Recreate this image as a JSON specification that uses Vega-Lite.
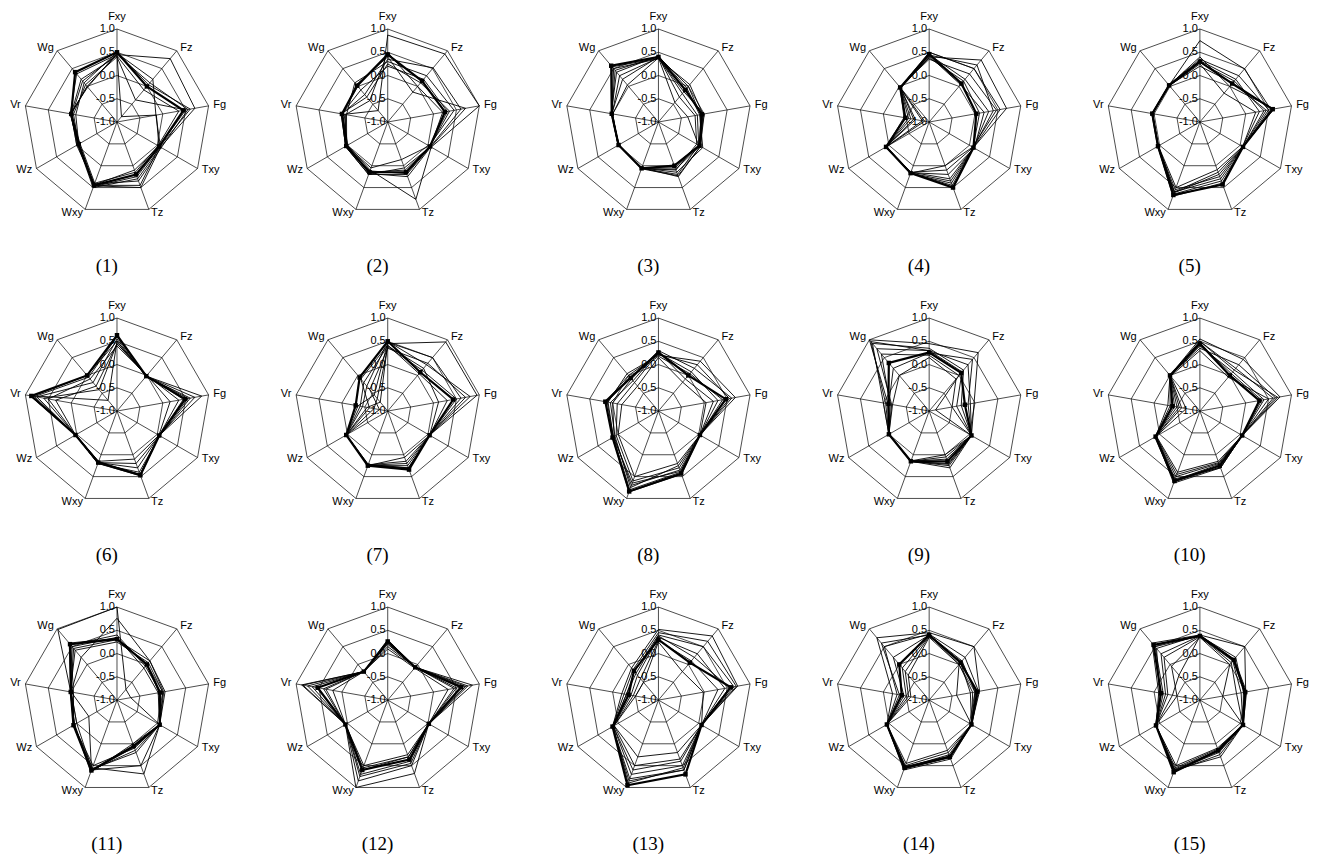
{
"$schema": "https://vega.github.io/schema/vega-lite/v6.json",
"padding": 0,
"autosize": {"type": "none"},
"width": 1342,
"height": 858,
"background": "white",
"data": {"values": [
{"c":1,"s":1,"Fxy":0.5,"Fz":0.0,"Fg":0.45,"Txy":0.05,"Tz":0.2,"Wxy":0.45,"Wz":-0.05,"Vr":0.0,"Wg":0.4},
{"c":1,"s":2,"Fxy":0.45,"Fz":0.78,"Fg":0.7,"Txy":0.08,"Tz":0.3,"Wxy":0.5,"Wz":-0.03,"Vr":0.02,"Wg":0.35},
{"c":1,"s":3,"Fxy":0.4,"Fz":-0.38,"Fg":0.5,"Txy":0.05,"Tz":0.45,"Wxy":0.45,"Wz":-0.05,"Vr":-0.05,"Wg":0.05},
{"c":1,"s":4,"Fxy":0.45,"Fz":0.1,"Fg":0.55,"Txy":0.1,"Tz":0.35,"Wxy":0.42,"Wz":0.0,"Vr":0.0,"Wg":0.0},
{"c":1,"s":5,"Fxy":0.5,"Fz":0.05,"Fg":0.6,"Txy":0.06,"Tz":0.25,"Wxy":0.48,"Wz":-0.05,"Vr":-0.1,"Wg":0.1},
{"c":1,"s":6,"Fxy":0.42,"Fz":-0.1,"Fg":0.35,"Txy":0.02,"Tz":0.15,"Wxy":0.4,"Wz":-0.08,"Vr":0.0,"Wg":0.2},
{"c":1,"s":7,"Fxy":0.48,"Fz":0.2,"Fg":-0.15,"Txy":0.08,"Tz":0.5,"Wxy":0.46,"Wz":-0.04,"Vr":0.02,"Wg":-0.02},
{"c":1,"s":8,"Fxy":0.45,"Fz":-0.85,"Fg":-0.14,"Txy":0.04,"Tz":0.1,"Wxy":0.44,"Wz":-0.02,"Vr":-0.02,"Wg":0.15},
{"c":2,"s":1,"Fxy":0.45,"Fz":0.15,"Fg":0.25,"Txy":0.05,"Tz":0.15,"Wxy":0.15,"Wz":0.03,"Vr":0.0,"Wg":0.02},
{"c":2,"s":2,"Fxy":0.87,"Fz":0.91,"Fg":1.0,"Txy":0.08,"Tz":0.77,"Wxy":0.1,"Wz":0.0,"Vr":-0.05,"Wg":-0.68},
{"c":2,"s":3,"Fxy":0.35,"Fz":0.52,"Fg":0.6,"Txy":0.06,"Tz":0.2,"Wxy":0.2,"Wz":0.05,"Vr":0.0,"Wg":-0.23},
{"c":2,"s":4,"Fxy":0.3,"Fz":0.3,"Fg":0.45,"Txy":0.03,"Tz":-0.14,"Wxy":0.05,"Wz":0.02,"Vr":-0.1,"Wg":0.1},
{"c":2,"s":5,"Fxy":0.25,"Fz":0.1,"Fg":0.35,"Txy":0.05,"Tz":0.1,"Wxy":0.15,"Wz":0.04,"Vr":0.02,"Wg":-0.3},
{"c":2,"s":6,"Fxy":0.4,"Fz":-0.16,"Fg":0.7,"Txy":0.07,"Tz":0.25,"Wxy":0.18,"Wz":0.0,"Vr":-0.02,"Wg":0.05},
{"c":2,"s":7,"Fxy":0.2,"Fz":0.2,"Fg":0.3,"Txy":0.04,"Tz":0.18,"Wxy":0.12,"Wz":0.03,"Vr":0.0,"Wg":-0.1},
{"c":2,"s":8,"Fxy":0.5,"Fz":0.0,"Fg":0.2,"Txy":0.06,"Tz":0.05,"Wxy":0.2,"Wz":0.05,"Vr":-0.08,"Wg":-0.4},
{"c":3,"s":1,"Fxy":0.4,"Fz":-0.1,"Fg":-0.05,"Txy":0.02,"Tz":0.0,"Wxy":0.06,"Wz":-0.01,"Vr":0.02,"Wg":0.58},
{"c":3,"s":2,"Fxy":0.38,"Fz":-0.45,"Fg":-0.36,"Txy":0.0,"Tz":0.05,"Wxy":0.05,"Wz":0.0,"Vr":0.0,"Wg":0.04},
{"c":3,"s":3,"Fxy":0.36,"Fz":0.05,"Fg":-0.03,"Txy":0.05,"Tz":0.23,"Wxy":0.07,"Wz":-0.02,"Vr":0.02,"Wg":0.5},
{"c":3,"s":4,"Fxy":0.42,"Fz":-0.05,"Fg":-0.1,"Txy":0.1,"Tz":0.15,"Wxy":0.05,"Wz":0.0,"Vr":0.03,"Wg":0.4},
{"c":3,"s":5,"Fxy":0.38,"Fz":-0.2,"Fg":-0.15,"Txy":0.0,"Tz":0.2,"Wxy":0.06,"Wz":-0.01,"Vr":0.01,"Wg":0.3},
{"c":3,"s":6,"Fxy":0.4,"Fz":-0.3,"Fg":-0.2,"Txy":-0.05,"Tz":0.1,"Wxy":0.06,"Wz":0.0,"Vr":0.02,"Wg":0.2},
{"c":3,"s":7,"Fxy":0.37,"Fz":-0.15,"Fg":0.0,"Txy":0.04,"Tz":0.25,"Wxy":0.05,"Wz":-0.02,"Vr":0.02,"Wg":0.55},
{"c":3,"s":8,"Fxy":0.41,"Fz":0.0,"Fg":-0.08,"Txy":0.03,"Tz":0.08,"Wxy":0.07,"Wz":0.0,"Vr":0.02,"Wg":0.45},
{"c":4,"s":1,"Fxy":0.46,"Fz":0.08,"Fg":0.03,"Txy":0.1,"Tz":0.5,"Wxy":0.17,"Wz":0.07,"Vr":-0.48,"Wg":-0.03},
{"c":4,"s":2,"Fxy":0.4,"Fz":0.74,"Fg":0.69,"Txy":0.1,"Tz":0.3,"Wxy":0.15,"Wz":0.07,"Vr":-0.66,"Wg":-0.05},
{"c":4,"s":3,"Fxy":0.35,"Fz":0.35,"Fg":0.47,"Txy":0.08,"Tz":0.0,"Wxy":0.17,"Wz":0.06,"Vr":-0.85,"Wg":-0.02},
{"c":4,"s":4,"Fxy":0.45,"Fz":0.2,"Fg":0.3,"Txy":0.1,"Tz":0.4,"Wxy":0.18,"Wz":0.07,"Vr":-0.55,"Wg":-0.03},
{"c":4,"s":5,"Fxy":0.42,"Fz":0.05,"Fg":0.2,"Txy":0.12,"Tz":0.2,"Wxy":0.16,"Wz":0.08,"Vr":-0.7,"Wg":-0.04},
{"c":4,"s":6,"Fxy":0.5,"Fz":0.5,"Fg":0.55,"Txy":0.1,"Tz":0.45,"Wxy":0.17,"Wz":0.07,"Vr":-0.45,"Wg":-0.03},
{"c":4,"s":7,"Fxy":0.38,"Fz":0.15,"Fg":0.1,"Txy":0.09,"Tz":0.1,"Wxy":0.15,"Wz":0.06,"Vr":-0.9,"Wg":-0.02},
{"c":4,"s":8,"Fxy":0.44,"Fz":0.6,"Fg":0.4,"Txy":0.1,"Tz":0.35,"Wxy":0.17,"Wz":0.07,"Vr":-0.6,"Wg":-0.03},
{"c":5,"s":1,"Fxy":0.3,"Fz":0.08,"Fg":0.59,"Txy":0.07,"Tz":0.43,"Wxy":0.67,"Wz":0.04,"Vr":0.04,"Wg":0.03},
{"c":5,"s":2,"Fxy":0.75,"Fz":0.49,"Fg":0.55,"Txy":0.07,"Tz":0.3,"Wxy":0.6,"Wz":0.04,"Vr":0.03,"Wg":0.03},
{"c":5,"s":3,"Fxy":0.25,"Fz":-0.19,"Fg":0.22,"Txy":0.06,"Tz":0.09,"Wxy":0.5,"Wz":0.03,"Vr":0.04,"Wg":0.02},
{"c":5,"s":4,"Fxy":0.35,"Fz":0.3,"Fg":0.5,"Txy":0.08,"Tz":0.35,"Wxy":0.65,"Wz":0.05,"Vr":0.05,"Wg":0.04},
{"c":5,"s":5,"Fxy":0.28,"Fz":0.15,"Fg":0.4,"Txy":0.07,"Tz":0.25,"Wxy":0.55,"Wz":0.04,"Vr":0.03,"Wg":0.03},
{"c":5,"s":6,"Fxy":0.4,"Fz":0.0,"Fg":0.62,"Txy":0.07,"Tz":0.4,"Wxy":0.7,"Wz":0.04,"Vr":0.04,"Wg":0.03},
{"c":5,"s":7,"Fxy":0.32,"Fz":0.2,"Fg":0.3,"Txy":0.06,"Tz":0.15,"Wxy":0.6,"Wz":0.03,"Vr":0.04,"Wg":0.03},
{"c":5,"s":8,"Fxy":0.2,"Fz":0.1,"Fg":0.45,"Txy":0.07,"Tz":0.2,"Wxy":0.62,"Wz":0.04,"Vr":0.04,"Wg":0.03},
{"c":6,"s":1,"Fxy":0.63,"Fz":-0.02,"Fg":0.49,"Txy":0.05,"Tz":0.47,"Wxy":0.18,"Wz":0.03,"Vr":0.87,"Wg":0.0},
{"c":6,"s":2,"Fxy":0.5,"Fz":-0.02,"Fg":0.85,"Txy":0.05,"Tz":0.45,"Wxy":0.18,"Wz":0.03,"Vr":0.9,"Wg":-0.7},
{"c":6,"s":3,"Fxy":0.45,"Fz":0.0,"Fg":0.16,"Txy":0.04,"Tz":0.1,"Wxy":0.15,"Wz":0.03,"Vr":0.34,"Wg":-0.3},
{"c":6,"s":4,"Fxy":0.55,"Fz":-0.03,"Fg":0.6,"Txy":0.06,"Tz":0.4,"Wxy":0.2,"Wz":0.03,"Vr":0.75,"Wg":-0.2},
{"c":6,"s":5,"Fxy":0.4,"Fz":0.0,"Fg":0.35,"Txy":0.05,"Tz":0.2,"Wxy":0.18,"Wz":0.03,"Vr":0.5,"Wg":-0.1},
{"c":6,"s":6,"Fxy":0.5,"Fz":-0.02,"Fg":0.7,"Txy":0.05,"Tz":0.45,"Wxy":0.16,"Wz":0.02,"Vr":0.85,"Wg":0.0},
{"c":6,"s":7,"Fxy":0.45,"Fz":-0.01,"Fg":0.45,"Txy":0.05,"Tz":0.3,"Wxy":0.18,"Wz":0.03,"Vr":0.6,"Wg":-0.4},
{"c":6,"s":8,"Fxy":0.6,"Fz":-0.02,"Fg":0.55,"Txy":0.05,"Tz":0.48,"Wxy":0.2,"Wz":0.03,"Vr":0.8,"Wg":-0.05},
{"c":7,"s":1,"Fxy":0.5,"Fz":0.09,"Fg":0.43,"Txy":0.04,"Tz":0.34,"Wxy":0.25,"Wz":0.03,"Vr":-0.3,"Wg":-0.06},
{"c":7,"s":2,"Fxy":0.45,"Fz":0.94,"Fg":0.95,"Txy":0.04,"Tz":0.3,"Wxy":0.22,"Wz":0.03,"Vr":-0.55,"Wg":-0.75},
{"c":7,"s":3,"Fxy":0.35,"Fz":0.34,"Fg":0.7,"Txy":0.04,"Tz":0.06,"Wxy":0.25,"Wz":0.03,"Vr":-0.82,"Wg":-0.4},
{"c":7,"s":4,"Fxy":0.4,"Fz":0.2,"Fg":0.11,"Txy":0.04,"Tz":0.2,"Wxy":0.24,"Wz":0.03,"Vr":-0.4,"Wg":-0.2},
{"c":7,"s":5,"Fxy":0.48,"Fz":0.5,"Fg":0.6,"Txy":0.04,"Tz":0.3,"Wxy":0.25,"Wz":0.03,"Vr":-0.35,"Wg":-0.55},
{"c":7,"s":6,"Fxy":0.42,"Fz":0.05,"Fg":0.3,"Txy":0.04,"Tz":0.15,"Wxy":0.23,"Wz":0.03,"Vr":-0.6,"Wg":-0.1},
{"c":7,"s":7,"Fxy":0.38,"Fz":0.15,"Fg":0.5,"Txy":0.04,"Tz":0.25,"Wxy":0.25,"Wz":0.03,"Vr":-0.7,"Wg":-0.65},
{"c":7,"s":8,"Fxy":0.5,"Fz":0.3,"Fg":0.8,"Txy":0.04,"Tz":0.32,"Wxy":0.24,"Wz":0.03,"Vr":-0.45,"Wg":-0.3},
{"c":8,"s":1,"Fxy":0.26,"Fz":0.0,"Fg":0.47,"Txy":0.03,"Tz":0.43,"Wxy":0.84,"Wz":0.14,"Vr":0.16,"Wg":-0.07},
{"c":8,"s":2,"Fxy":0.2,"Fz":0.4,"Fg":0.68,"Txy":0.03,"Tz":0.4,"Wxy":0.8,"Wz":0.12,"Vr":0.1,"Wg":0.05},
{"c":8,"s":3,"Fxy":0.15,"Fz":-0.19,"Fg":0.04,"Txy":0.03,"Tz":0.2,"Wxy":0.5,"Wz":0.0,"Vr":-0.2,"Wg":-0.3},
{"c":8,"s":4,"Fxy":0.3,"Fz":0.2,"Fg":0.6,"Txy":0.03,"Tz":0.35,"Wxy":0.7,"Wz":0.1,"Vr":0.0,"Wg":-0.1},
{"c":8,"s":5,"Fxy":0.25,"Fz":0.1,"Fg":0.3,"Txy":0.03,"Tz":0.3,"Wxy":0.6,"Wz":0.05,"Vr":-0.1,"Wg":-0.2},
{"c":8,"s":6,"Fxy":0.22,"Fz":0.3,"Fg":0.55,"Txy":0.03,"Tz":0.45,"Wxy":0.85,"Wz":0.14,"Vr":0.15,"Wg":0.0},
{"c":8,"s":7,"Fxy":0.28,"Fz":-0.1,"Fg":0.2,"Txy":0.03,"Tz":0.25,"Wxy":0.75,"Wz":0.08,"Vr":0.05,"Wg":-0.15},
{"c":8,"s":8,"Fxy":0.18,"Fz":0.05,"Fg":0.4,"Txy":0.03,"Tz":0.38,"Wxy":0.65,"Wz":0.12,"Vr":0.12,"Wg":-0.05},
{"c":9,"s":1,"Fxy":0.26,"Fz":0.07,"Fg":-0.22,"Txy":0.05,"Tz":0.15,"Wxy":0.15,"Wz":0.0,"Vr":-0.11,"Wg":0.35},
{"c":9,"s":2,"Fxy":0.45,"Fz":0.64,"Fg":-0.02,"Txy":0.05,"Tz":0.25,"Wxy":0.15,"Wz":0.0,"Vr":-0.1,"Wg":1.0},
{"c":9,"s":3,"Fxy":0.15,"Fz":-0.1,"Fg":-0.5,"Txy":0.05,"Tz":0.0,"Wxy":0.14,"Wz":0.0,"Vr":-0.2,"Wg":0.0},
{"c":9,"s":4,"Fxy":0.3,"Fz":0.3,"Fg":-0.1,"Txy":0.05,"Tz":0.3,"Wxy":0.15,"Wz":0.0,"Vr":-0.05,"Wg":0.95},
{"c":9,"s":5,"Fxy":0.2,"Fz":0.0,"Fg":-0.86,"Txy":0.05,"Tz":0.1,"Wxy":0.15,"Wz":0.0,"Vr":-0.15,"Wg":0.6},
{"c":9,"s":6,"Fxy":0.35,"Fz":0.15,"Fg":-0.3,"Txy":0.05,"Tz":0.2,"Wxy":0.16,"Wz":0.0,"Vr":0.0,"Wg":0.9},
{"c":9,"s":7,"Fxy":0.25,"Fz":0.45,"Fg":-0.15,"Txy":0.05,"Tz":0.22,"Wxy":0.15,"Wz":0.0,"Vr":-0.12,"Wg":0.2},
{"c":9,"s":8,"Fxy":0.3,"Fz":0.1,"Fg":-0.4,"Txy":0.05,"Tz":0.05,"Wxy":0.15,"Wz":0.0,"Vr":-0.18,"Wg":0.75},
{"c":10,"s":1,"Fxy":0.45,"Fz":0.0,"Fg":0.3,"Txy":0.05,"Tz":0.25,"Wxy":0.6,"Wz":0.1,"Vr":-0.4,"Wg":0.0},
{"c":10,"s":2,"Fxy":0.55,"Fz":0.45,"Fg":0.75,"Txy":0.05,"Tz":0.3,"Wxy":0.55,"Wz":0.1,"Vr":-0.3,"Wg":0.0},
{"c":10,"s":3,"Fxy":0.3,"Fz":-0.05,"Fg":0.5,"Txy":0.05,"Tz":0.15,"Wxy":0.4,"Wz":0.08,"Vr":-0.7,"Wg":-0.02},
{"c":10,"s":4,"Fxy":0.5,"Fz":0.2,"Fg":0.6,"Txy":0.05,"Tz":0.28,"Wxy":0.62,"Wz":0.12,"Vr":-0.5,"Wg":0.0},
{"c":10,"s":5,"Fxy":0.4,"Fz":0.1,"Fg":0.4,"Txy":0.05,"Tz":0.2,"Wxy":0.5,"Wz":0.1,"Vr":-0.6,"Wg":0.0},
{"c":10,"s":6,"Fxy":0.35,"Fz":0.3,"Fg":0.65,"Txy":0.05,"Tz":0.3,"Wxy":0.65,"Wz":0.1,"Vr":-0.35,"Wg":0.0},
{"c":10,"s":7,"Fxy":0.45,"Fz":0.05,"Fg":0.35,"Txy":0.05,"Tz":0.22,"Wxy":0.58,"Wz":0.1,"Vr":-0.45,"Wg":0.0},
{"c":10,"s":8,"Fxy":0.5,"Fz":0.15,"Fg":0.7,"Txy":0.05,"Tz":0.18,"Wxy":0.45,"Wz":0.09,"Vr":-0.55,"Wg":0.0},
{"c":11,"s":1,"Fxy":0.31,"Fz":0.0,"Fg":-0.06,"Txy":0.06,"Tz":0.05,"Wxy":0.61,"Wz":0.08,"Vr":0.01,"Wg":0.57},
{"c":11,"s":2,"Fxy":1.0,"Fz":-0.7,"Fg":-0.7,"Txy":0.06,"Tz":0.69,"Wxy":0.55,"Wz":0.08,"Vr":0.01,"Wg":0.98},
{"c":11,"s":3,"Fxy":0.76,"Fz":0.1,"Fg":0.05,"Txy":0.06,"Tz":0.5,"Wxy":0.6,"Wz":-0.3,"Vr":0.0,"Wg":0.2},
{"c":11,"s":4,"Fxy":0.35,"Fz":-0.1,"Fg":-0.1,"Txy":0.06,"Tz":0.1,"Wxy":0.5,"Wz":0.08,"Vr":0.0,"Wg":0.5},
{"c":11,"s":5,"Fxy":0.25,"Fz":0.05,"Fg":0.0,"Txy":0.06,"Tz":0.0,"Wxy":0.65,"Wz":0.06,"Vr":0.02,"Wg":0.4},
{"c":11,"s":6,"Fxy":0.4,"Fz":-0.05,"Fg":-0.05,"Txy":0.06,"Tz":0.15,"Wxy":0.6,"Wz":0.08,"Vr":-0.05,"Wg":0.55},
{"c":11,"s":7,"Fxy":0.3,"Fz":0.1,"Fg":0.02,"Txy":0.06,"Tz":0.08,"Wxy":0.62,"Wz":0.05,"Vr":0.01,"Wg":0.45},
{"c":11,"s":8,"Fxy":0.33,"Fz":0.0,"Fg":-0.08,"Txy":0.06,"Tz":0.2,"Wxy":0.58,"Wz":0.0,"Vr":0.0,"Wg":0.6},
{"c":12,"s":1,"Fxy":0.26,"Fz":-0.08,"Fg":0.6,"Txy":0.02,"Tz":0.36,"Wxy":0.6,"Wz":0.05,"Vr":0.53,"Wg":-0.2},
{"c":12,"s":2,"Fxy":0.3,"Fz":-0.08,"Fg":0.85,"Txy":0.02,"Tz":0.68,"Wxy":1.0,"Wz":0.05,"Vr":0.88,"Wg":-0.2},
{"c":12,"s":3,"Fxy":0.1,"Fz":-0.1,"Fg":0.32,"Txy":0.02,"Tz":0.25,"Wxy":0.5,"Wz":0.05,"Vr":0.2,"Wg":-0.2},
{"c":12,"s":4,"Fxy":0.25,"Fz":-0.08,"Fg":0.7,"Txy":0.02,"Tz":0.45,"Wxy":0.75,"Wz":0.05,"Vr":0.75,"Wg":-0.2},
{"c":12,"s":5,"Fxy":0.2,"Fz":-0.08,"Fg":0.5,"Txy":0.02,"Tz":0.3,"Wxy":0.6,"Wz":0.05,"Vr":0.4,"Wg":-0.2},
{"c":12,"s":6,"Fxy":0.28,"Fz":-0.08,"Fg":0.75,"Txy":0.02,"Tz":0.5,"Wxy":0.85,"Wz":0.05,"Vr":0.85,"Wg":-0.2},
{"c":12,"s":7,"Fxy":0.15,"Fz":-0.08,"Fg":0.45,"Txy":0.02,"Tz":0.3,"Wxy":0.55,"Wz":0.05,"Vr":0.35,"Wg":-0.2},
{"c":12,"s":8,"Fxy":0.22,"Fz":-0.08,"Fg":0.65,"Txy":0.02,"Tz":0.4,"Wxy":0.7,"Wz":0.05,"Vr":0.65,"Wg":-0.2},
{"c":13,"s":1,"Fxy":0.3,"Fz":0.05,"Fg":0.58,"Txy":0.07,"Tz":0.7,"Wxy":0.95,"Wz":0.14,"Vr":-0.35,"Wg":-0.18},
{"c":13,"s":2,"Fxy":0.52,"Fz":0.8,"Fg":0.73,"Txy":0.07,"Tz":0.6,"Wxy":0.85,"Wz":0.14,"Vr":-0.2,"Wg":-0.1},
{"c":13,"s":3,"Fxy":0.25,"Fz":-0.2,"Fg":-0.02,"Txy":0.07,"Tz":0.2,"Wxy":0.3,"Wz":0.1,"Vr":-0.5,"Wg":-0.5},
{"c":13,"s":4,"Fxy":0.4,"Fz":0.5,"Fg":0.65,"Txy":0.07,"Tz":0.5,"Wxy":0.7,"Wz":0.12,"Vr":-0.3,"Wg":-0.2},
{"c":13,"s":5,"Fxy":0.35,"Fz":0.3,"Fg":0.45,"Txy":0.07,"Tz":0.4,"Wxy":0.6,"Wz":0.12,"Vr":-0.4,"Wg":-0.3},
{"c":13,"s":6,"Fxy":0.45,"Fz":0.65,"Fg":0.7,"Txy":0.07,"Tz":0.6,"Wxy":0.8,"Wz":0.14,"Vr":-0.25,"Wg":-0.15},
{"c":13,"s":7,"Fxy":0.28,"Fz":0.1,"Fg":0.3,"Txy":0.07,"Tz":0.35,"Wxy":0.5,"Wz":0.1,"Vr":-0.45,"Wg":-0.4},
{"c":13,"s":8,"Fxy":0.38,"Fz":0.2,"Fg":0.55,"Txy":0.07,"Tz":0.55,"Wxy":0.9,"Wz":0.13,"Vr":-0.3,"Wg":-0.25},
{"c":14,"s":1,"Fxy":0.4,"Fz":0.05,"Fg":0.05,"Txy":0.05,"Tz":0.3,"Wxy":0.55,"Wz":0.05,"Vr":-0.4,"Wg":0.0},
{"c":14,"s":2,"Fxy":0.45,"Fz":0.5,"Fg":0.1,"Txy":0.05,"Tz":0.35,"Wxy":0.6,"Wz":0.05,"Vr":-0.2,"Wg":0.75},
{"c":14,"s":3,"Fxy":0.35,"Fz":0.0,"Fg":-0.4,"Txy":0.05,"Tz":0.15,"Wxy":0.45,"Wz":0.05,"Vr":-0.6,"Wg":-0.3},
{"c":14,"s":4,"Fxy":0.4,"Fz":0.1,"Fg":0.0,"Txy":0.05,"Tz":0.25,"Wxy":0.55,"Wz":0.05,"Vr":-0.35,"Wg":0.6},
{"c":14,"s":5,"Fxy":0.38,"Fz":0.05,"Fg":-0.1,"Txy":0.05,"Tz":0.2,"Wxy":0.5,"Wz":0.05,"Vr":-0.5,"Wg":-0.1},
{"c":14,"s":6,"Fxy":0.42,"Fz":0.2,"Fg":0.08,"Txy":0.05,"Tz":0.3,"Wxy":0.58,"Wz":0.05,"Vr":-0.3,"Wg":0.5},
{"c":14,"s":7,"Fxy":0.4,"Fz":0.0,"Fg":-0.05,"Txy":0.05,"Tz":0.28,"Wxy":0.52,"Wz":0.05,"Vr":-0.45,"Wg":0.2},
{"c":14,"s":8,"Fxy":0.37,"Fz":0.08,"Fg":0.02,"Txy":0.05,"Tz":0.32,"Wxy":0.56,"Wz":0.05,"Vr":-0.55,"Wg":-0.2},
{"c":15,"s":1,"Fxy":0.38,"Fz":0.13,"Fg":-0.01,"Txy":0.07,"Tz":0.15,"Wxy":0.65,"Wz":0.09,"Vr":-0.15,"Wg":0.55},
{"c":15,"s":2,"Fxy":0.4,"Fz":0.5,"Fg":0.0,"Txy":0.07,"Tz":0.3,"Wxy":0.6,"Wz":0.09,"Vr":-0.1,"Wg":0.6},
{"c":15,"s":3,"Fxy":0.35,"Fz":0.0,"Fg":-0.5,"Txy":0.07,"Tz":0.1,"Wxy":0.5,"Wz":0.09,"Vr":-0.5,"Wg":-0.05},
{"c":15,"s":4,"Fxy":0.38,"Fz":0.2,"Fg":-0.05,"Txy":0.07,"Tz":0.2,"Wxy":0.62,"Wz":0.09,"Vr":-0.2,"Wg":0.5},
{"c":15,"s":5,"Fxy":0.36,"Fz":0.1,"Fg":-0.1,"Txy":0.07,"Tz":0.12,"Wxy":0.55,"Wz":0.09,"Vr":-0.3,"Wg":0.2},
{"c":15,"s":6,"Fxy":0.4,"Fz":0.15,"Fg":0.02,"Txy":0.07,"Tz":0.25,"Wxy":0.63,"Wz":0.09,"Vr":-0.12,"Wg":0.45},
{"c":15,"s":7,"Fxy":0.37,"Fz":0.05,"Fg":-0.2,"Txy":0.07,"Tz":0.15,"Wxy":0.58,"Wz":0.09,"Vr":-0.4,"Wg":-0.3},
{"c":15,"s":8,"Fxy":0.38,"Fz":0.12,"Fg":-0.03,"Txy":0.07,"Tz":0.18,"Wxy":0.6,"Wz":0.09,"Vr":-0.25,"Wg":0.3}
]},
"transform": [
  {"calculate": "((datum.c - 1) % 5) * 2.911", "as": "cx"},
  {"calculate": "-floor((datum.c - 1) / 5) * 3.108", "as": "cy"}
],
"encoding": {
  "x": {"field": "X", "type": "quantitative", "axis": null, "scale": {"domain": [-1.258, 13.172], "nice": false, "zero": false}},
  "y": {"field": "Y", "type": "quantitative", "axis": null, "scale": {"domain": [-7.914, 1.312], "nice": false, "zero": false}}
},
"layer": [
  {
    "transform": [
      {"filter": "datum.s == 1"},
      {"fold": ["Fxy","Fz","Fg","Txy","Tz","Wxy","Wz","Vr","Wg"], "as": ["axis","v"]},
      {"calculate": "indexof(['Fxy','Fz','Fg','Txy','Tz','Wxy','Wz','Vr','Wg'], datum.axis)", "as": "i"},
      {"calculate": "datum.i*2*PI/9", "as": "t"},
      {"calculate": "[0.25, 0.5, 0.75, 1]", "as": "rr"},
      {"flatten": ["rr"]},
      {"calculate": "datum.cx + datum.rr*sin(datum.t)", "as": "X"},
      {"calculate": "datum.cy + datum.rr*cos(datum.t)", "as": "Y"}
    ],
    "mark": {"type": "line", "interpolate": "linear-closed", "stroke": "black", "strokeWidth": 0.7},
    "encoding": {"detail": [{"field": "c"}, {"field": "rr"}], "order": {"field": "i", "type": "quantitative"}}
  },
  {
    "transform": [
      {"filter": "datum.s == 1"},
      {"fold": ["Fxy","Fz","Fg","Txy","Tz","Wxy","Wz","Vr","Wg"], "as": ["axis","v"]},
      {"calculate": "indexof(['Fxy','Fz','Fg','Txy','Tz','Wxy','Wz','Vr','Wg'], datum.axis)", "as": "i"},
      {"calculate": "datum.i*2*PI/9", "as": "t"},
      {"calculate": "datum.cx + sin(datum.t)", "as": "X"},
      {"calculate": "datum.cy + cos(datum.t)", "as": "Y"}
    ],
    "mark": {"type": "rule", "stroke": "black", "strokeWidth": 0.7},
    "encoding": {"x2": {"field": "cx"}, "y2": {"field": "cy"}}
  },
  {
    "transform": [
      {"filter": "datum.s == 1"},
      {"calculate": "[-1, -0.5, 0, 0.5, 1]", "as": "lv"},
      {"flatten": ["lv"]},
      {"calculate": "datum.cx", "as": "X"},
      {"calculate": "datum.cy + (datum.lv+1)/2", "as": "Y"},
      {"calculate": "(datum.lv < 0 ? '-' : '') + format(abs(datum.lv), '.1f')", "as": "lab"}
    ],
    "mark": {"type": "text", "align": "right", "baseline": "middle", "dx": -2, "font": "Liberation Sans", "fontSize": 11, "fill": "black"},
    "encoding": {"text": {"field": "lab"}}
  },
  {
    "transform": [
      {"filter": "datum.s > 1"},
      {"fold": ["Fxy","Fz","Fg","Txy","Tz","Wxy","Wz","Vr","Wg"], "as": ["axis","v"]},
      {"calculate": "indexof(['Fxy','Fz','Fg','Txy','Tz','Wxy','Wz','Vr','Wg'], datum.axis)", "as": "i"},
      {"calculate": "datum.i*2*PI/9", "as": "t"},
      {"calculate": "datum.cx + (datum.v+1)/2*sin(datum.t)", "as": "X"},
      {"calculate": "datum.cy + (datum.v+1)/2*cos(datum.t)", "as": "Y"}
    ],
    "mark": {"type": "line", "interpolate": "linear-closed", "stroke": "black", "strokeWidth": 0.9},
    "encoding": {"detail": [{"field": "c"}, {"field": "s"}], "order": {"field": "i", "type": "quantitative"}}
  },
  {
    "transform": [
      {"filter": "datum.s == 1"},
      {"fold": ["Fxy","Fz","Fg","Txy","Tz","Wxy","Wz","Vr","Wg"], "as": ["axis","v"]},
      {"calculate": "indexof(['Fxy','Fz','Fg','Txy','Tz','Wxy','Wz','Vr','Wg'], datum.axis)", "as": "i"},
      {"calculate": "datum.i*2*PI/9", "as": "t"},
      {"calculate": "datum.cx + (datum.v+1)/2*sin(datum.t)", "as": "X"},
      {"calculate": "datum.cy + (datum.v+1)/2*cos(datum.t)", "as": "Y"}
    ],
    "layer": [
      {
        "mark": {"type": "line", "interpolate": "linear-closed", "stroke": "black", "strokeWidth": 2.2},
        "encoding": {"detail": [{"field": "c"}, {"field": "s"}], "order": {"field": "i", "type": "quantitative"}}
      },
      {
        "mark": {"type": "point", "shape": "square", "filled": true, "fill": "black", "size": 20, "opacity": 1}
      }
    ]
  },
  {
    "transform": [
      {"filter": "datum.s == 1"},
      {"fold": ["Fxy","Fz","Fg","Txy","Tz","Wxy","Wz","Vr","Wg"], "as": ["axis","v"]},
      {"calculate": "indexof(['Fxy','Fz','Fg','Txy','Tz','Wxy','Wz','Vr','Wg'], datum.axis)", "as": "i"},
      {"calculate": "datum.i*2*PI/9", "as": "t"},
      {"calculate": "datum.i == 0 ? 1.13 : 1.04", "as": "lr"},
      {"calculate": "datum.cx + datum.lr*sin(datum.t)", "as": "X"},
      {"calculate": "datum.cy + datum.lr*cos(datum.t)", "as": "Y"}
    ],
    "layer": [
      {
        "transform": [{"filter": "datum.i == 0"}],
        "mark": {"type": "text", "align": "center", "baseline": "middle", "font": "Liberation Sans", "fontSize": 11, "fill": "black"},
        "encoding": {"text": {"field": "axis"}}
      },
      {
        "transform": [{"filter": "datum.i >= 1 && datum.i <= 4"}],
        "mark": {"type": "text", "align": "left", "baseline": "middle", "dx": 1, "font": "Liberation Sans", "fontSize": 11, "fill": "black"},
        "encoding": {"text": {"field": "axis"}}
      },
      {
        "transform": [{"filter": "datum.i >= 5"}],
        "mark": {"type": "text", "align": "right", "baseline": "middle", "dx": -1, "font": "Liberation Sans", "fontSize": 11, "fill": "black"},
        "encoding": {"text": {"field": "axis"}}
      }
    ]
  },
  {
    "transform": [
      {"filter": "datum.s == 1"},
      {"calculate": "datum.cx - 0.11", "as": "X"},
      {"calculate": "datum.cy - 1.55", "as": "Y"},
      {"calculate": "'(' + datum.c + ')'", "as": "cap"}
    ],
    "mark": {"type": "text", "align": "center", "baseline": "middle", "font": "Liberation Serif", "fontSize": 19, "fill": "black"},
    "encoding": {"text": {"field": "cap"}}
  }
],
"config": {"view": {"stroke": null}}
}
